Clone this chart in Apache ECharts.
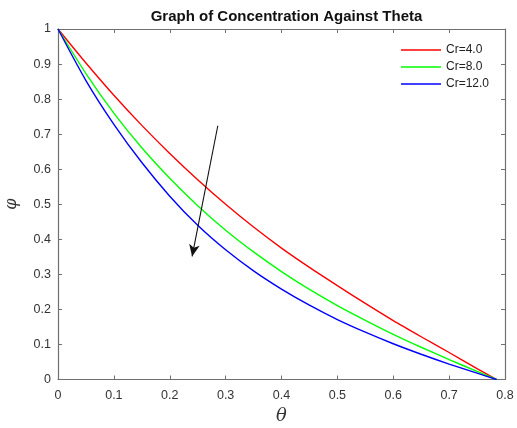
<!DOCTYPE html>
<html>
<head>
<meta charset="utf-8">
<script src="https://cdn.jsdelivr.net/npm/echarts@6/dist/echarts.min.js"></script>
<style>
html, body { margin: 0; padding: 0; background: #fff; }
#main { width: 517px; height: 428px; }
</style>
</head>
<body>
<div id="main"></div>
<script>
// theta values (x axis)
var theta = [0, 0.05, 0.1, 0.15, 0.2, 0.25, 0.3, 0.35, 0.4, 0.45, 0.5, 0.55, 0.6, 0.65, 0.7, 0.75, 0.785];

// concentration phi for each Cr
var cr4 = [1, 0.903, 0.811, 0.725, 0.645, 0.570, 0.500, 0.435, 0.375, 0.320, 0.268, 0.217, 0.168, 0.122, 0.077, 0.031, 0];
var cr8 = [1, 0.873, 0.760, 0.661, 0.574, 0.496, 0.426, 0.364, 0.308, 0.257, 0.211, 0.169, 0.129, 0.092, 0.057, 0.023, 0];
var cr12 = [1, 0.853, 0.728, 0.619, 0.523, 0.440, 0.370, 0.310, 0.258, 0.212, 0.171, 0.135, 0.102, 0.072, 0.044, 0.018, 0];

var seriesNames = ['Cr=4.0', 'Cr=8.0', 'Cr=12.0'];
var seriesColors = ['#ff0000', '#00ff00', '#0000ff'];

// arrow annotation, start and end in data coords
var arrowFrom = [0.286, 0.724];
var arrowTo = [0.240, 0.351];

function zip(xs, ys) {
    var out = [];
    for (var i = 0; i < xs.length; i++) {
        out.push([xs[i], ys[i]]);
    }
    return out;
}

var axisColor = '#707070';
var labelColor = '#333';
var sans = 'Liberation Sans, Arial, sans-serif';

// box axes (top / right) just carry the inward ticks
function boxAxis(pos, max) {
    return {
        type: 'value',
        position: pos,
        min: 0,
        max: max,
        interval: 0.1,
        axisLine: {show: true, onZero: false, lineStyle: {color: axisColor, width: 1.2}},
        axisTick: {show: true, inside: true, length: 4, lineStyle: {color: axisColor}},
        axisLabel: {show: false},
        splitLine: {show: false}
    };
}

var myChart = echarts.init(document.getElementById('main'));

var option = {
    animation: false,
    backgroundColor: '#fff',
    title: {
        text: 'Graph of Concentration Against Theta',
        left: 281.5,
        textAlign: 'center',
        top: 4,
        textStyle: {
            fontFamily: sans,
            fontSize: 15,
            fontWeight: 'bold',
            color: '#111'
        }
    },
    legend: {
        orient: 'vertical',
        left: 401,
        top: 43,
        padding: 0,
        icon: 'rect',
        itemWidth: 40,
        itemHeight: 1.5,
        itemGap: 3,
        textStyle: {
            fontFamily: sans,
            fontSize: 12,
            lineHeight: 14,
            color: '#222'
        },
        data: seriesNames
    },
    grid: {
        left: 58,
        right: 12,
        top: 29,
        bottom: 48.5,
        containLabel: false,
        outerBoundsMode: 'none'
    },
    xAxis: [
        {
            type: 'value',
            min: 0,
            max: 0.8,
            interval: 0.1,
            name: 'θ',
            nameLocation: 'middle',
            nameGap: 27,
            nameTextStyle: {
                fontFamily: 'DejaVu Serif, Liberation Serif, serif',
                fontStyle: 'italic',
                fontSize: 18,
                color: '#333'
            },
            axisLine: {show: true, onZero: false, lineStyle: {color: axisColor, width: 1.2}},
            axisTick: {show: true, inside: true, length: 4, lineStyle: {color: axisColor}},
            axisLabel: {
                margin: 10,
                fontFamily: sans,
                fontSize: 12.5,
                color: labelColor
            },
            splitLine: {show: false}
        },
        boxAxis('top', 0.8)
    ],
    yAxis: [
        {
            type: 'value',
            min: 0,
            max: 1,
            interval: 0.1,
            name: 'φ',
            nameLocation: 'middle',
            nameGap: 38,
            nameRotate: 90,
            nameTextStyle: {
                fontFamily: 'DejaVu Serif, Liberation Serif, serif',
                fontStyle: 'italic',
                fontSize: 16,
                color: '#333'
            },
            axisLine: {show: true, onZero: false, lineStyle: {color: axisColor, width: 1.2}},
            axisTick: {show: true, inside: true, length: 4, lineStyle: {color: axisColor}},
            axisLabel: {
                margin: 7,
                fontFamily: sans,
                fontSize: 12.5,
                color: labelColor
            },
            splitLine: {show: false}
        },
        boxAxis('right', 1)
    ],
    series: [cr4, cr8, cr12].map(function (vals, i) {
        var s = {
            name: seriesNames[i],
            type: 'line',
            data: zip(theta, vals),
            smooth: 0.25,
            showSymbol: false,
            color: seriesColors[i],
            lineStyle: {width: 1.4, color: seriesColors[i]}
        };
        if (i === 0) {
            s.markLine = {
                silent: true,
                symbol: ['none', 'arrow'],
                symbolSize: [8, 12],
                label: {show: false},
                lineStyle: {color: '#111', width: 1.1, type: 'solid'},
                data: [[{coord: arrowFrom}, {coord: arrowTo}]]
            };
        }
        return s;
    })
};

myChart.setOption(option);
</script>
</body>
</html>
